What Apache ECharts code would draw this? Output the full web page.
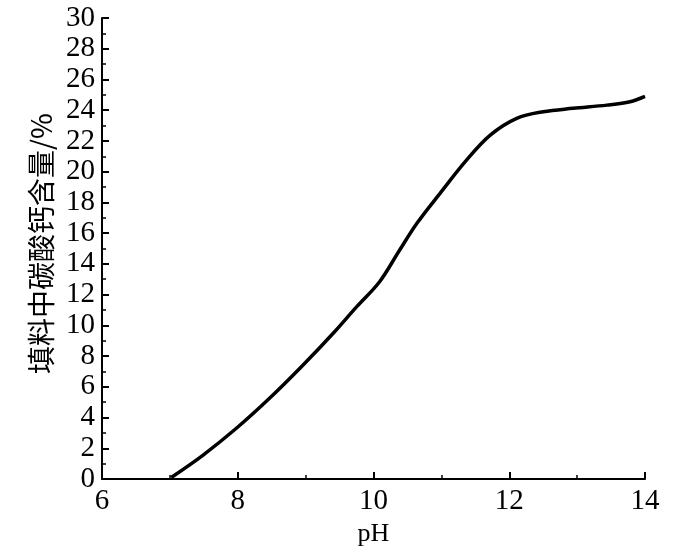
<!DOCTYPE html>
<html>
<head>
<meta charset="utf-8">
<script src="https://cdn.jsdelivr.net/npm/echarts@6/dist/echarts.min.js"></script>
<style>
html,body{margin:0;padding:0;background:#fff;}
#c{width:700px;height:547px;}
</style>
</head>
<body>
<div id="c"></div>
<script>
const pH = [7.02, 7.49, 7.98, 8.48, 8.97, 9.42, 9.75, 10.09, 10.37, 10.64, 10.98, 11.37, 11.72, 12.11, 12.5, 12.94, 13.44, 13.78, 14.0];
const caco3 = [0.1, 1.56, 3.3, 5.3, 7.45, 9.55, 11.2, 12.84, 14.79, 16.64, 18.59, 20.75, 22.38, 23.47, 23.9, 24.12, 24.33, 24.55, 24.9];
const xTicks = [6, 8, 10, 12, 14];
const yTicks = [0, 2, 4, 6, 8, 10, 12, 14, 16, 18, 20, 22, 24, 26, 28, 30];
const xName = 'pH';
const yName = '填料中碳酸钙含量/%';

const chart = echarts.init(document.getElementById('c'), null, {renderer: 'canvas'});
const serif = '"Liberation Serif", "DejaVu Serif", serif';
chart.setOption({
  animation: false,
  backgroundColor: '#fff',
  grid: {left: 102, right: 55, top: 18, bottom: 68, containLabel: false, outerBoundsMode: 'none'},
  xAxis: {
    type: 'value',
    min: xTicks[0], max: xTicks[xTicks.length - 1], interval: 2,
    name: xName, nameLocation: 'middle', nameGap: 42,
    nameTextStyle: {fontFamily: serif, fontSize: 26, color: '#000'},
    axisLine: {lineStyle: {color: '#000', width: 2}},
    axisTick: {inside: true, length: 7, lineStyle: {color: '#000', width: 2}},
    minorTick: {show: true, splitNumber: 2, length: 4, lineStyle: {color: '#000', width: 1.5}},
    axisLabel: {fontFamily: serif, fontSize: 29, color: '#000', margin: 8},
    splitLine: {show: false}
  },
  yAxis: {
    type: 'value',
    min: yTicks[0], max: yTicks[yTicks.length - 1], interval: 2,
    name: yName, nameLocation: 'middle', nameRotate: 90, nameGap: 44,
    nameTextStyle: {fontFamily: '"Noto Sans CJK SC", sans-serif', fontSize: 28, color: '#000', padding: [0, 0, 0, 10]},
    axisLine: {lineStyle: {color: '#000', width: 2}},
    axisTick: {inside: true, length: 7, lineStyle: {color: '#000', width: 2}},
    minorTick: {show: true, splitNumber: 2, length: 4, lineStyle: {color: '#000', width: 1.5}},
    axisLabel: {fontFamily: serif, fontSize: 29, color: '#000', margin: 7},
    splitLine: {show: false}
  },
  series: [{
    type: 'line',
    data: pH.map((x, i) => [x, caco3[i]]),
    smooth: 0.35,
    showSymbol: false,
    lineStyle: {color: '#000', width: 3.5}
  }]
});
</script>
</body>
</html>
